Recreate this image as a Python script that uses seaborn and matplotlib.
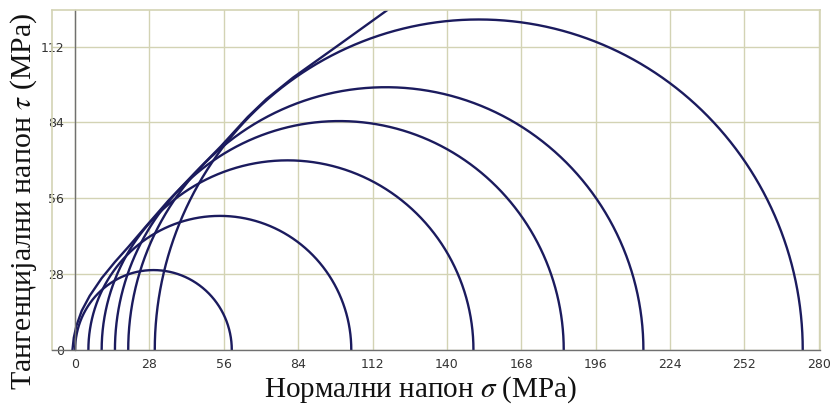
import numpy as np
import pandas as pd
import matplotlib
matplotlib.use("Agg")
import matplotlib.pyplot as plt
import seaborn as sns
from matplotlib.ticker import MultipleLocator

# Mohr circles: minor / major principal stresses (MPa)
sigma3 = [0, 5, 10, 15, 20, 30]
sigma1 = [59, 104, 150, 184, 214, 274]

# Failure envelope
env_sigma = [-1, -0.5, 0.5, 2.5, 5.5, 10, 15, 20, 27, 35, 45, 55, 65, 72, 82, 100, 117.6]
env_tau = [0, 4.5, 9, 14.5, 20, 26.5, 32.5, 38, 46, 55, 65.3, 75.3, 86, 92.6, 100.5, 113.1, 125.5]

x_ticks = [0, 28, 56, 84, 112, 140, 168, 196, 224, 252, 280]
y_ticks = [0, 28, 56, 84, 112]

NAVY = "#1b1b5e"
GRID = "#d3d3b4"
AXC = "#707070"

sns.set_theme(style="white")
plt.rcParams["mathtext.fontset"] = "stix"
plt.rcParams["font.family"] = ["DejaVu Sans"]

theta = np.linspace(0, np.pi, 721)
parts = []
for i, (s3, s1) in enumerate(zip(sigma3, sigma1)):
    c = (s1 + s3) / 2.0
    r = (s1 - s3) / 2.0
    parts.append(pd.DataFrame({"sigma": c + r * np.cos(theta),
                               "tau": r * np.sin(theta),
                               "curve": f"circle{i}"}))
parts.append(pd.DataFrame({"sigma": env_sigma, "tau": env_tau, "curve": "envelope"}))
df = pd.concat(parts, ignore_index=True)

fig = plt.figure(figsize=(8.33, 4.08), dpi=100)
ax = fig.add_axes([52 / 833, 1 - 350 / 408, (820 - 52) / 833, (350 - 10) / 408])

sns.lineplot(data=df, x="sigma", y="tau", units="curve", estimator=None,
             sort=False, color=NAVY, linewidth=1.7, ax=ax, legend=False)

ax.set_xlim(-8.7, 280.5)
ax.set_ylim(0, 125.5)
ax.set_xticks(x_ticks)
ax.set_yticks(y_ticks)
ax.xaxis.set_minor_locator(MultipleLocator(7))
ax.yaxis.set_minor_locator(MultipleLocator(7))
ax.grid(True, which="major", color=GRID, linewidth=1.0)
ax.set_axisbelow(True)

ax.spines["left"].set_position(("data", 0))
for s in ("left", "bottom"):
    ax.spines[s].set_color(AXC)
    ax.spines[s].set_linewidth(1.0)
for s in ("top", "right"):
    ax.spines[s].set_color(GRID)
    ax.spines[s].set_linewidth(1.2)
ax.plot([0, 0], [0, 1], transform=ax.transAxes, color=GRID, lw=1.2, clip_on=False)

ax.tick_params(which="major", direction="inout", length=6, width=0.8, color=AXC,
               labelsize=9, labelcolor="#333333", pad=3)
ax.tick_params(which="minor", direction="inout", length=3, width=0.6, color=AXC)
ax.tick_params(axis="y", pad=5)
ax.set_xlabel("")
ax.set_ylabel("")

fig.text(421 / 833, 1 - 397 / 408, "Нормални напон $\\sigma$ (MPa)",
         fontfamily="Liberation Serif", fontsize=21, ha="center", va="baseline", color="#111111")
fig.text(24 / 833, 1 - 201 / 408, "Тангенцијални напон $\\tau$ (MPa)",
         fontfamily="Liberation Serif", fontsize=21.5, ha="center", va="center",
         rotation=90, color="#111111")

fig.savefig("out.png", dpi=100)
